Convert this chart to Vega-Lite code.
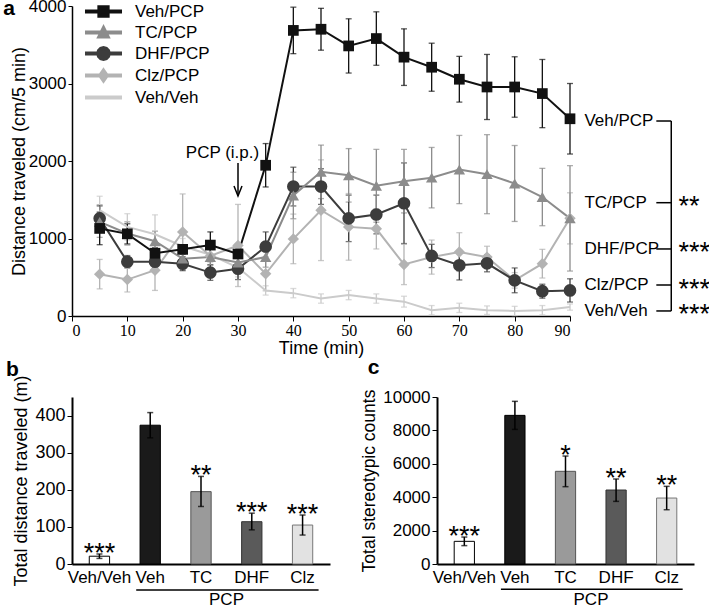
{
  "$schema": "https://vega.github.io/schema/vega-lite/v6.json",
  "padding": {"left": 3, "top": -3, "right": 0, "bottom": 0},
  "config": {
    "font": "Liberation Sans",
    "view": {"stroke": null},
    "axis": {"domainColor": "#000", "tickColor": "#000", "labelColor": "#000", "titleColor": "#000", "grid": false, "titleFontWeight": "normal", "labelOverlap": false},
    "axisY": {"labelOverlap": false},
    "title": {"fontSize": 21, "fontWeight": "bold", "anchor": "start", "frame": "bounds", "color": "#000"}
  },
  "datasets": {
    "ts": [
      {"g": "Veh/Veh", "t": 5, "v": 1365, "lo": 1185, "hi": 1545},
      {"g": "Veh/Veh", "t": 10, "v": 1150, "lo": 980, "hi": 1320},
      {"g": "Veh/Veh", "t": 15, "v": 1055, "lo": 805, "hi": 1305},
      {"g": "Veh/Veh", "t": 20, "v": 900, "lo": 800, "hi": 1000},
      {"g": "Veh/Veh", "t": 25, "v": 790, "lo": 690, "hi": 890},
      {"g": "Veh/Veh", "t": 30, "v": 625, "lo": 505, "hi": 745},
      {"g": "Veh/Veh", "t": 35, "v": 330, "lo": 270, "hi": 390},
      {"g": "Veh/Veh", "t": 40, "v": 295, "lo": 235, "hi": 355},
      {"g": "Veh/Veh", "t": 45, "v": 225, "lo": 165, "hi": 285},
      {"g": "Veh/Veh", "t": 50, "v": 270, "lo": 210, "hi": 330},
      {"g": "Veh/Veh", "t": 55, "v": 225, "lo": 165, "hi": 285},
      {"g": "Veh/Veh", "t": 60, "v": 185, "lo": 115, "hi": 255},
      {"g": "Veh/Veh", "t": 65, "v": 75, "lo": 15, "hi": 135},
      {"g": "Veh/Veh", "t": 70, "v": 105, "lo": 45, "hi": 165},
      {"g": "Veh/Veh", "t": 75, "v": 75, "lo": 20, "hi": 130},
      {"g": "Veh/Veh", "t": 80, "v": 65, "lo": 5, "hi": 125},
      {"g": "Veh/Veh", "t": 85, "v": 75, "lo": 15, "hi": 135},
      {"g": "Veh/Veh", "t": 90, "v": 115, "lo": 75, "hi": 155},
      {"g": "Clz/PCP", "t": 5, "v": 540, "lo": 350, "hi": 730},
      {"g": "Clz/PCP", "t": 10, "v": 470, "lo": 310, "hi": 630},
      {"g": "Clz/PCP", "t": 15, "v": 590, "lo": 330, "hi": 850},
      {"g": "Clz/PCP", "t": 20, "v": 1085, "lo": 595, "hi": 1575},
      {"g": "Clz/PCP", "t": 25, "v": 775, "lo": 625, "hi": 925},
      {"g": "Clz/PCP", "t": 30, "v": 910, "lo": 380, "hi": 1440},
      {"g": "Clz/PCP", "t": 35, "v": 545, "lo": 325, "hi": 765},
      {"g": "Clz/PCP", "t": 40, "v": 995, "lo": 675, "hi": 1315},
      {"g": "Clz/PCP", "t": 45, "v": 1365, "lo": 715, "hi": 2015},
      {"g": "Clz/PCP", "t": 50, "v": 1150, "lo": 720, "hi": 1580},
      {"g": "Clz/PCP", "t": 55, "v": 1125, "lo": 865, "hi": 1385},
      {"g": "Clz/PCP", "t": 60, "v": 665, "lo": 405, "hi": 925},
      {"g": "Clz/PCP", "t": 65, "v": 760, "lo": 540, "hi": 980},
      {"g": "Clz/PCP", "t": 70, "v": 825, "lo": 575, "hi": 1075},
      {"g": "Clz/PCP", "t": 75, "v": 760, "lo": 620, "hi": 900},
      {"g": "Clz/PCP", "t": 80, "v": 460, "lo": 360, "hi": 560},
      {"g": "Clz/PCP", "t": 85, "v": 675, "lo": 490, "hi": 860},
      {"g": "Clz/PCP", "t": 90, "v": 1260, "lo": 930, "hi": 1590},
      {"g": "DHF/PCP", "t": 5, "v": 1260, "lo": 1090, "hi": 1430},
      {"g": "DHF/PCP", "t": 10, "v": 700, "lo": 620, "hi": 780},
      {"g": "DHF/PCP", "t": 15, "v": 700, "lo": 630, "hi": 770},
      {"g": "DHF/PCP", "t": 20, "v": 675, "lo": 585, "hi": 765},
      {"g": "DHF/PCP", "t": 25, "v": 560, "lo": 460, "hi": 660},
      {"g": "DHF/PCP", "t": 30, "v": 610, "lo": 470, "hi": 750},
      {"g": "DHF/PCP", "t": 35, "v": 895, "lo": 705, "hi": 1085},
      {"g": "DHF/PCP", "t": 40, "v": 1670, "lo": 1420, "hi": 1920},
      {"g": "DHF/PCP", "t": 45, "v": 1670, "lo": 1440, "hi": 1900},
      {"g": "DHF/PCP", "t": 50, "v": 1260, "lo": 960, "hi": 1560},
      {"g": "DHF/PCP", "t": 55, "v": 1310, "lo": 1060, "hi": 1560},
      {"g": "DHF/PCP", "t": 60, "v": 1455, "lo": 935, "hi": 1975},
      {"g": "DHF/PCP", "t": 65, "v": 775, "lo": 625, "hi": 925},
      {"g": "DHF/PCP", "t": 70, "v": 655, "lo": 465, "hi": 845},
      {"g": "DHF/PCP", "t": 75, "v": 680, "lo": 570, "hi": 790},
      {"g": "DHF/PCP", "t": 80, "v": 460, "lo": 300, "hi": 620},
      {"g": "DHF/PCP", "t": 85, "v": 320, "lo": 230, "hi": 410},
      {"g": "DHF/PCP", "t": 90, "v": 330, "lo": 180, "hi": 480},
      {"g": "TC/PCP", "t": 5, "v": 1215, "lo": 1015, "hi": 1415},
      {"g": "TC/PCP", "t": 10, "v": 1065, "lo": 915, "hi": 1215},
      {"g": "TC/PCP", "t": 15, "v": 965, "lo": 835, "hi": 1095},
      {"g": "TC/PCP", "t": 20, "v": 740, "lo": 640, "hi": 840},
      {"g": "TC/PCP", "t": 25, "v": 760, "lo": 660, "hi": 860},
      {"g": "TC/PCP", "t": 30, "v": 690, "lo": 580, "hi": 800},
      {"g": "TC/PCP", "t": 35, "v": 760, "lo": 630, "hi": 890},
      {"g": "TC/PCP", "t": 40, "v": 1555, "lo": 1255, "hi": 1855},
      {"g": "TC/PCP", "t": 45, "v": 1860, "lo": 1515, "hi": 2205},
      {"g": "TC/PCP", "t": 50, "v": 1815, "lo": 1470, "hi": 2160},
      {"g": "TC/PCP", "t": 55, "v": 1680, "lo": 1210, "hi": 2150},
      {"g": "TC/PCP", "t": 60, "v": 1740, "lo": 1330, "hi": 2150},
      {"g": "TC/PCP", "t": 65, "v": 1785, "lo": 1395, "hi": 2175},
      {"g": "TC/PCP", "t": 70, "v": 1890, "lo": 1450, "hi": 2330},
      {"g": "TC/PCP", "t": 75, "v": 1830, "lo": 1320, "hi": 2340},
      {"g": "TC/PCP", "t": 80, "v": 1710, "lo": 1220, "hi": 2200},
      {"g": "TC/PCP", "t": 85, "v": 1535, "lo": 1165, "hi": 1905},
      {"g": "TC/PCP", "t": 90, "v": 1260, "lo": 580, "hi": 1940},
      {"g": "Veh/PCP", "t": 5, "v": 1130, "lo": 920, "hi": 1340},
      {"g": "Veh/PCP", "t": 10, "v": 1060, "lo": 930, "hi": 1190},
      {"g": "Veh/PCP", "t": 15, "v": 810, "lo": 740, "hi": 880},
      {"g": "Veh/PCP", "t": 20, "v": 860, "lo": 800, "hi": 920},
      {"g": "Veh/PCP", "t": 25, "v": 915, "lo": 745, "hi": 1085},
      {"g": "Veh/PCP", "t": 30, "v": 800, "lo": 670, "hi": 930},
      {"g": "Veh/PCP", "t": 35, "v": 1945, "lo": 1665, "hi": 2225},
      {"g": "Veh/PCP", "t": 40, "v": 3685, "lo": 3385, "hi": 3985},
      {"g": "Veh/PCP", "t": 45, "v": 3700, "lo": 3430, "hi": 3970},
      {"g": "Veh/PCP", "t": 50, "v": 3485, "lo": 3135, "hi": 3835},
      {"g": "Veh/PCP", "t": 55, "v": 3580, "lo": 3235, "hi": 3925},
      {"g": "Veh/PCP", "t": 60, "v": 3340, "lo": 2975, "hi": 3705},
      {"g": "Veh/PCP", "t": 65, "v": 3210, "lo": 2900, "hi": 3520},
      {"g": "Veh/PCP", "t": 70, "v": 3055, "lo": 2760, "hi": 3350},
      {"g": "Veh/PCP", "t": 75, "v": 2955, "lo": 2535, "hi": 3375},
      {"g": "Veh/PCP", "t": 80, "v": 2955, "lo": 2565, "hi": 3345},
      {"g": "Veh/PCP", "t": 85, "v": 2870, "lo": 2430, "hi": 3310},
      {"g": "Veh/PCP", "t": 90, "v": 2545, "lo": 2090, "hi": 3000}
    ],
    "distb": [
      {"grp": "Veh/Veh", "val": 21, "lo": 15, "hi": 27, "stars": "***"},
      {"grp": "Veh", "val": 374, "lo": 340, "hi": 408, "stars": ""},
      {"grp": "TC", "val": 195, "lo": 155, "hi": 236, "stars": "**"},
      {"grp": "DHF", "val": 114, "lo": 92, "hi": 137, "stars": "***"},
      {"grp": "Clz", "val": 105, "lo": 78, "hi": 132, "stars": "***"}
    ],
    "stereo": [
      {"grp": "Veh/Veh", "val": 1357, "lo": 1100, "hi": 1615, "stars": "***"},
      {"grp": "Veh", "val": 8900, "lo": 8060, "hi": 9740, "stars": ""},
      {"grp": "TC", "val": 5550, "lo": 4630, "hi": 6465, "stars": "*"},
      {"grp": "DHF", "val": 4430, "lo": 3750, "hi": 5090, "stars": "**"},
      {"grp": "Clz", "val": 3950, "lo": 3250, "hi": 4650, "stars": "**"}
    ]
  },
  "columns": 1,
  "align": "none",
  "spacing": 0,
  "resolve": {
    "scale": {"color": "independent", "fill": "independent", "stroke": "independent", "shape": "independent"},
    "legend": {"color": "independent", "fill": "independent", "stroke": "independent", "shape": "independent"}
  },
  "concat": [
    {
      "width": 498,
      "height": 310,
      "title": {"text": "a", "dx": -7, "offset": -22},
      "data": {"name": "ts"},
      "layer": [
        {
          "mark": {"type": "errorbar", "ticks": {"size": 6}, "thickness": 1.3},
          "encoding": {
            "x": {"field": "t", "type": "quantitative", "scale": {"domain": [0, 90], "nice": false, "padding": 0},
              "axis": {"title": "Time (min)", "values": [0,5,10,15,20,25,30,35,40,45,50,55,60,65,70,75,80,85,90], "format": "d", "labelFont": "Liberation Sans Narrow", "labelFontSize": 16, "tickSize": 5, "labelOverlap": false, "labelPadding": 1, "titleFontSize": 18, "titlePadding": 1, "domainWidth": 1.5}},
            "y": {"field": "lo", "type": "quantitative", "scale": {"domain": [0, 4000], "nice": false}, "title": "Distance traveled (cm/5 min)",
              "axis": {"values": [0,1000,2000,3000,4000], "format": "d", "labelOverlap": false, "labelFontSize": 17, "tickSize": 4, "titleFontSize": 18, "domainWidth": 1.5, "titlePadding": 0}},
            "y2": {"field": "hi"},
            "color": {"field": "g", "type": "nominal", "legend": null,
              "scale": {"domain": ["Veh/Veh", "Clz/PCP", "DHF/PCP", "TC/PCP", "Veh/PCP"], "range": ["#cbcbcb", "#b3b3b3", "#3c3c3c", "#8c8c8c", "#111111"]}}
          }
        },
        {
          "mark": {"type": "line", "strokeWidth": 2},
          "encoding": {
            "x": {"field": "t", "type": "quantitative"},
            "y": {"field": "v", "type": "quantitative", "title": "Distance traveled (cm/5 min)"},
            "color": {"field": "g", "type": "nominal", "legend": null}
          }
        },
        {
          "transform": [{"filter": "datum.g === 'Clz/PCP'"}],
          "mark": {"type": "point", "shape": "diamond", "filled": true, "size": 130, "opacity": 1},
          "encoding": {
            "x": {"field": "t", "type": "quantitative"},
            "y": {"field": "v", "type": "quantitative", "title": "Distance traveled (cm/5 min)"},
            "color": {"field": "g", "type": "nominal", "legend": null}
          }
        },
        {
          "transform": [{"filter": "datum.g === 'DHF/PCP'"}],
          "mark": {"type": "point", "shape": "circle", "filled": true, "size": 160, "opacity": 1},
          "encoding": {
            "x": {"field": "t", "type": "quantitative"},
            "y": {"field": "v", "type": "quantitative", "title": "Distance traveled (cm/5 min)"},
            "color": {"field": "g", "type": "nominal", "legend": null}
          }
        },
        {
          "transform": [{"filter": "datum.g === 'TC/PCP'"}],
          "mark": {"type": "point", "shape": "triangle-up", "filled": true, "size": 130, "opacity": 1},
          "encoding": {
            "x": {"field": "t", "type": "quantitative"},
            "y": {"field": "v", "type": "quantitative", "title": "Distance traveled (cm/5 min)"},
            "color": {"field": "g", "type": "nominal", "legend": null}
          }
        },
        {
          "transform": [{"filter": "datum.g === 'Veh/PCP'"}],
          "mark": {"type": "point", "shape": "square", "filled": true, "size": 115, "opacity": 1},
          "encoding": {
            "x": {"field": "t", "type": "quantitative"},
            "y": {"field": "v", "type": "quantitative", "title": "Distance traveled (cm/5 min)"},
            "color": {"field": "g", "type": "nominal", "legend": null}
          }
        },
        {
          "transform": [{"filter": "false"}],
          "mark": {"type": "point", "filled": true, "strokeWidth": 4, "opacity": 1},
          "encoding": {
            "x": {"field": "t", "type": "quantitative"},
            "y": {"field": "v", "type": "quantitative", "title": "Distance traveled (cm/5 min)"},
            "fill": {"field": "g", "type": "nominal",
              "scale": {"domain": ["Veh/PCP", "TC/PCP", "DHF/PCP", "Clz/PCP", "Veh/Veh"], "range": ["#111111", "#8c8c8c", "#3c3c3c", "#b3b3b3", "#cbcbcb"]},
              "legend": {"title": null, "orient": "none", "legendX": 23, "legendY": -3, "labelFontSize": 17, "labelOffset": 23, "symbolSize": 36, "symbolStrokeWidth": 4, "symbolOpacity": 1, "rowPadding": -11, "padding": 0, "labelColor": "#000"}},
            "stroke": {"field": "g", "type": "nominal",
              "scale": {"domain": ["Veh/PCP", "TC/PCP", "DHF/PCP", "Clz/PCP", "Veh/Veh"], "range": ["#111111", "#8c8c8c", "#3c3c3c", "#b3b3b3", "#cbcbcb"]},
              "legend": {"title": null, "orient": "none", "legendX": 23, "legendY": -3, "labelFontSize": 17, "labelOffset": 23, "symbolSize": 36, "symbolStrokeWidth": 4, "symbolOpacity": 1, "rowPadding": -11, "padding": 0, "labelColor": "#000"}},
            "shape": {"field": "g", "type": "nominal",
              "scale": {"domain": ["Veh/PCP", "TC/PCP", "DHF/PCP", "Clz/PCP", "Veh/Veh"],
                "range": ["M-6.17,0H6.17M-1.38,-1.38H1.38V1.38H-1.38Z", "M-6.17,0H6.17M0,-1.33L1.33,1.33H-1.33Z", "M-6.17,0H6.17M1.77,0L1.53,0.88L0.88,1.53L0,1.77L-0.88,1.53L-1.53,0.88L-1.77,0L-1.53,-0.88L-0.88,-1.53L0,-1.77L0.88,-1.53L1.53,-0.88Z", "M-6.17,0H6.17M0,-1.57L1.1,0L0,1.57L-1.1,0Z", "M-6.17,0H6.17"]},
              "legend": {"title": null, "orient": "none", "legendX": 23, "legendY": -3, "labelFontSize": 17, "labelOffset": 23, "symbolSize": 36, "symbolStrokeWidth": 4, "symbolOpacity": 1, "rowPadding": -11, "padding": 0, "labelColor": "#000"}}
          }
        },
        {
          "data": {"values": [{"t": 30, "label": "PCP (i.p.)"}]},
          "layer": [
            {
              "mark": {"type": "text", "fontSize": 17, "dx": -15.5, "baseline": "middle", "color": "#000"},
              "encoding": {"x": {"field": "t", "type": "quantitative"}, "y": {"datum": 2103, "type": "quantitative"}, "text": {"field": "label"}}
            },
            {
              "mark": {"type": "rule", "strokeWidth": 1.5, "color": "#000"},
              "encoding": {"x": {"field": "t", "type": "quantitative"}, "y": {"datum": 1974, "type": "quantitative"}, "y2": {"datum": 1555}}
            },
            {
              "mark": {"type": "point", "shape": "M-2,-5L0,0L2,-5", "size": 16, "filled": false, "strokeWidth": 1.5, "color": "#000", "opacity": 1},
              "encoding": {"x": {"field": "t", "type": "quantitative"}, "y": {"datum": 1548, "type": "quantitative"}}
            }
          ]
        },
        {
          "data": {"values": [
            {"label": "Veh/PCP", "ly": 2516, "stars": ""},
            {"label": "TC/PCP", "ly": 1462, "stars": "**"},
            {"label": "DHF/PCP", "ly": 865, "stars": "***"},
            {"label": "Clz/PCP", "ly": 400, "stars": "***"},
            {"label": "Veh/Veh", "ly": 65, "stars": "***"}
          ]},
          "layer": [
            {
              "mark": {"type": "text", "fontSize": 17, "align": "left", "baseline": "middle", "color": "#000"},
              "encoding": {"x": {"datum": 92.6, "type": "quantitative"}, "y": {"field": "ly", "type": "quantitative"}, "text": {"field": "label"}}
            },
            {
              "mark": {"type": "rule", "strokeWidth": 1.5, "color": "#000"},
              "encoding": {"x": {"datum": 105.6, "type": "quantitative"}, "x2": {"datum": 108.3}, "y": {"field": "ly", "type": "quantitative"}}
            },
            {
              "mark": {"type": "rule", "strokeWidth": 1.5, "color": "#000"},
              "encoding": {"x": {"datum": 108.3, "type": "quantitative"}, "y": {"aggregate": "max", "field": "ly", "type": "quantitative"}, "y2": {"aggregate": "min", "field": "ly"}}
            },
            {
              "mark": {"type": "text", "fontSize": 27, "align": "left", "baseline": "alphabetic", "dy": 12.5, "color": "#000"},
              "encoding": {"x": {"datum": 109.6, "type": "quantitative"}, "y": {"field": "ly", "type": "quantitative"}, "text": {"field": "stars"}}
            }
          ]
        }
      ]
    },
    {
      "spacing": 30,
      "resolve": {
        "scale": {"color": "independent", "fill": "independent", "stroke": "independent", "shape": "independent"},
        "legend": {"color": "independent", "fill": "independent", "stroke": "independent", "shape": "independent"}
      },
      "hconcat": [
        {
          "width": 258,
          "height": 167,
          "title": {"text": "b", "dx": -7, "offset": -5.5},
          "data": {"name": "distb"},
          "layer": [
            {
              "mark": {"type": "bar", "strokeWidth": 1},
              "encoding": {
                "x": {"field": "grp", "type": "nominal", "sort": null,
                  "scale": {"domain": ["Veh/Veh", "Veh", "TC", "DHF", "Clz"], "paddingInner": 0.6, "paddingOuter": 0.34},
                  "axis": {"title": null, "ticks": false, "labelAngle": 0, "labelFontSize": 17, "labelPadding": 5, "domainWidth": 2}},
                "y": {"field": "val", "type": "quantitative", "scale": {"domain": [0, 450], "nice": false}, "title": "Total distance traveled (m)",
                  "axis": {"values": [0, 100, 200, 300, 400], "format": "d", "labelOverlap": false, "tickSize": 5, "labelFontSize": 18, "titleFontSize": 18, "domainWidth": 2, "titlePadding": 4}},
                "fill": {"field": "grp", "type": "nominal", "legend": null,
                  "scale": {"domain": ["Veh/Veh", "Veh", "TC", "DHF", "Clz"], "range": ["#ffffff", "#1a1a1a", "#9a9a9a", "#5a5a5a", "#e2e2e2"]}},
                "stroke": {"field": "grp", "type": "nominal", "legend": null,
                  "scale": {"domain": ["Veh/Veh", "Veh", "TC", "DHF", "Clz"], "range": ["#000000", "#000000", "#555555", "#333333", "#777777"]}}
              }
            },
            {
              "mark": {"type": "errorbar", "ticks": {"size": 6}, "thickness": 1.5, "color": "#000"},
              "encoding": {
                "x": {"field": "grp", "type": "nominal", "sort": null},
                "y": {"field": "lo", "type": "quantitative", "title": "Total distance traveled (m)"},
                "y2": {"field": "hi"}
              }
            },
            {
              "mark": {"type": "text", "fontSize": 27, "baseline": "alphabetic", "dy": 8, "color": "#000"},
              "encoding": {
                "x": {"field": "grp", "type": "nominal", "sort": null},
                "y": {"field": "hi", "type": "quantitative", "title": "Total distance traveled (m)"},
                "text": {"field": "stars"}
              }
            },
            {
              "data": {"values": [{"from": "Veh", "to": "Clz", "mid": "TC", "label": "PCP"}]},
              "layer": [
                {
                  "mark": {"type": "rule", "strokeWidth": 1.5, "color": "#000", "xOffset": -14, "x2Offset": 16},
                  "encoding": {"x": {"field": "from", "type": "nominal"}, "x2": {"field": "to"}, "y": {"datum": -70, "type": "quantitative"}}
                },
                {
                  "mark": {"type": "text", "fontSize": 17, "dx": 25.5, "baseline": "middle", "color": "#000"},
                  "encoding": {"x": {"field": "mid", "type": "nominal"}, "y": {"datum": -97, "type": "quantitative"}, "text": {"field": "label"}}
                }
              ]
            }
          ]
        },
        {
          "width": 257,
          "height": 167,
          "title": {"text": "c", "dx": 7, "offset": 9},
          "data": {"name": "stereo"},
          "layer": [
            {
              "mark": {"type": "bar", "strokeWidth": 1},
              "encoding": {
                "x": {"field": "grp", "type": "nominal", "sort": null,
                  "scale": {"domain": ["Veh/Veh", "Veh", "TC", "DHF", "Clz"], "paddingInner": 0.6, "paddingOuter": 0.34},
                  "axis": {"title": null, "ticks": false, "labelAngle": 0, "labelFontSize": 17, "labelPadding": 5, "domainWidth": 2}},
                "y": {"field": "val", "type": "quantitative", "scale": {"domain": [0, 10000], "nice": false}, "title": "Total stereotypic counts",
                  "axis": {"values": [0, 2000, 4000, 6000, 8000, 10000], "tickCount": 6, "format": "d", "labelOverlap": false, "labelSeparation": 0, "tickSize": 5, "labelFontSize": 17, "titleFontSize": 17.5, "domainWidth": 2, "titlePadding": 4}},
                "fill": {"field": "grp", "type": "nominal", "legend": null,
                  "scale": {"domain": ["Veh/Veh", "Veh", "TC", "DHF", "Clz"], "range": ["#ffffff", "#1a1a1a", "#9a9a9a", "#5a5a5a", "#e2e2e2"]}},
                "stroke": {"field": "grp", "type": "nominal", "legend": null,
                  "scale": {"domain": ["Veh/Veh", "Veh", "TC", "DHF", "Clz"], "range": ["#000000", "#000000", "#555555", "#333333", "#777777"]}}
              }
            },
            {
              "mark": {"type": "errorbar", "ticks": {"size": 6}, "thickness": 1.5, "color": "#000"},
              "encoding": {
                "x": {"field": "grp", "type": "nominal", "sort": null},
                "y": {"field": "lo", "type": "quantitative", "title": "Total stereotypic counts"},
                "y2": {"field": "hi"}
              }
            },
            {
              "mark": {"type": "text", "fontSize": 27, "baseline": "alphabetic", "dy": 8, "color": "#000"},
              "encoding": {
                "x": {"field": "grp", "type": "nominal", "sort": null},
                "y": {"field": "hi", "type": "quantitative", "title": "Total stereotypic counts"},
                "text": {"field": "stars"}
              }
            },
            {
              "data": {"values": [{"from": "Veh", "to": "Clz", "mid": "TC", "label": "PCP"}]},
              "layer": [
                {
                  "mark": {"type": "rule", "strokeWidth": 1.5, "color": "#000", "xOffset": -14, "x2Offset": 16},
                  "encoding": {"x": {"field": "from", "type": "nominal"}, "x2": {"field": "to"}, "y": {"datum": -1515, "type": "quantitative"}}
                },
                {
                  "mark": {"type": "text", "fontSize": 17, "dx": 25.5, "baseline": "middle", "color": "#000"},
                  "encoding": {"x": {"field": "mid", "type": "nominal"}, "y": {"datum": -2150, "type": "quantitative"}, "text": {"field": "label"}}
                }
              ]
            }
          ]
        }
      ]
    }
  ]
}
